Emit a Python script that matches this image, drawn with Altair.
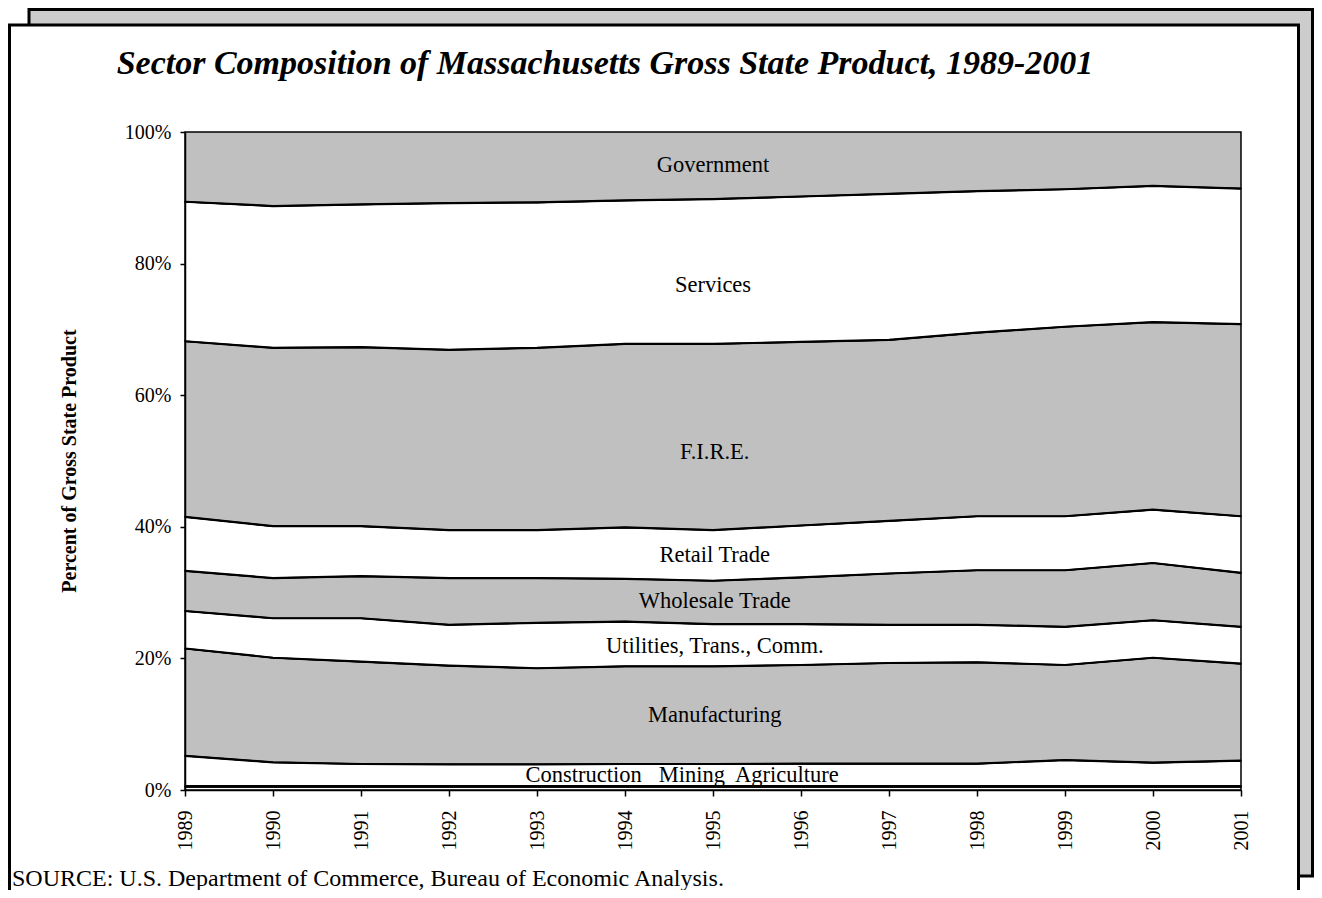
import altair as alt
import pandas as pd

# ---------------- data ----------------
years = [1989, 1990, 1991, 1992, 1993, 1994, 1995, 1996, 1997, 1998, 1999, 2000, 2001]

# sectors from bottom to top of the stack
sectors = ["Agriculture", "Mining", "Construction", "Manufacturing",
           "Utilities, Trans., Comm.", "Wholesale Trade", "Retail Trade",
           "F.I.R.E.", "Services", "Government"]

# cumulative upper edge (percent of GSP) of each sector band
agriculture_top = [0.5, 0.5, 0.5, 0.5, 0.5, 0.5, 0.5, 0.5, 0.5, 0.5, 0.5, 0.5, 0.5]
mining_top = [0.6, 0.6, 0.6, 0.6, 0.6, 0.6, 0.6, 0.6, 0.6, 0.6, 0.6, 0.6, 0.6]
construction_top = [5.2, 4.2, 3.95, 3.9, 3.9, 3.95, 3.95, 4.0, 4.0, 4.0, 4.55, 4.15, 4.45]
manufacturing_top = [21.5, 20.1, 19.5, 18.9, 18.5, 18.8, 18.8, 19.0, 19.3, 19.4, 19.0, 20.1, 19.2]
utilities_top = [27.2, 26.1, 26.1, 25.1, 25.4, 25.6, 25.2, 25.2, 25.1, 25.1, 24.8, 25.8, 24.8]
wholesale_top = [33.3, 32.2, 32.5, 32.2, 32.2, 32.1, 31.8, 32.3, 32.9, 33.4, 33.4, 34.5, 33.0]
retail_top = [41.5, 40.1, 40.1, 39.5, 39.5, 39.9, 39.5, 40.2, 40.9, 41.6, 41.6, 42.6, 41.6]
fire_top = [68.2, 67.2, 67.3, 66.9, 67.2, 67.8, 67.8, 68.1, 68.4, 69.5, 70.4, 71.1, 70.8]
services_top = [89.4, 88.75, 89.0, 89.2, 89.3, 89.6, 89.8, 90.2, 90.6, 91.0, 91.3, 91.8, 91.4]
government_top = [100, 100, 100, 100, 100, 100, 100, 100, 100, 100, 100, 100, 100]

tops = [agriculture_top, mining_top, construction_top, manufacturing_top,
        utilities_top, wholesale_top, retail_top, fire_top, services_top,
        government_top]

fills = ["#FFFFFF", "#C0C0C0", "#FFFFFF", "#C0C0C0", "#FFFFFF",
         "#C0C0C0", "#FFFFFF", "#C0C0C0", "#FFFFFF", "#C0C0C0"]

# in-chart labels
label_text = ["Government", "Services", "F.I.R.E.", "Retail Trade", "Wholesale Trade",
              "Utilities, Trans., Comm.", "Manufacturing", "Construction", "Mining",
              "Agriculture"]
label_year = [1995, 1995, 1995.02, 1995.02, 1995.02, 1995.02, 1995.02, 1993.53, 1994.76, 1995.84]
label_pct = [95.0, 76.7, 51.4, 35.7, 28.7, 21.9, 11.4, 2.3, 2.3, 2.3]

y_ticks = [0, 20, 40, 60, 80, 100]

title_text = "Sector Composition of Massachusetts Gross State Product, 1989-2001"
y_title_text = "Percent of Gross State Product"
source_text = "SOURCE: U.S. Department of Commerce, Bureau of Economic Analysis."

# ---------------- tables ----------------
rows = []
for i, (name, top) in enumerate(zip(sectors, tops)):
    lower = tops[i - 1] if i > 0 else [0] * len(years)
    for yr, lo, up in zip(years, lower, top):
        rows.append({"year": yr, "sector": name, "lower": lo, "upper": up})
df = pd.DataFrame(rows)
labels_df = pd.DataFrame({"label": label_text, "year": label_year, "pct": label_pct})
one = pd.DataFrame({"k": [0]})

FONT = "Liberation Serif"
W, H = 1056, 658

x_enc = alt.X("year:Q",
              scale=alt.Scale(domain=[1989, 2001], nice=False, zero=False),
              axis=alt.Axis(values=years, format="d", labelAngle=270, title=None,
                            labelFont=FONT, labelFontSize=20, labelColor="black",
                            tickColor="black", tickSize=6, tickWidth=1.5,
                            labelPadding=14, domainColor="black", domainWidth=1.5,
                            grid=False, zindex=1))
y_enc = alt.Y("upper:Q", stack=None,
              scale=alt.Scale(domain=[0, 100], nice=False, zero=True),
              axis=alt.Axis(values=y_ticks, labelExpr="datum.value + '%'",
                            title=None,
                            labelFont=FONT, labelFontSize=20, labelColor="black",
                            tickColor="black", tickSize=5, tickWidth=1.5,
                            labelPadding=9, domainColor="black", domainWidth=1.5,
                            grid=False, zindex=1))

# decorative frame (shadowed box)
back_box = alt.Chart(one).mark_rect(fill="#CCCCCC", stroke="black", strokeWidth=3).encode(
    x=alt.value(-156), x2=alt.value(1127.5), y=alt.value(-122.5), y2=alt.value(744))
front_box = alt.Chart(one).mark_rect(fill="white", stroke="black", strokeWidth=3).encode(
    x=alt.value(-175.5), x2=alt.value(1113.5), y=alt.value(-107), y2=alt.value(820))

areas = alt.Chart(df).mark_area(stroke="black", strokeWidth=1.5).encode(
    x=x_enc, y=y_enc, y2="lower:Q",
    fill=alt.Fill("sector:N", scale=alt.Scale(domain=sectors, range=fills), legend=None))

lines = alt.Chart(df).transform_filter(alt.datum.sector != "Government").mark_line(
    color="black", strokeWidth=2.2).encode(
    x=alt.X("year:Q"), y=alt.Y("upper:Q"), detail="sector:N")

labels = alt.Chart(labels_df).mark_text(font=FONT, fontSize=22.5, color="black",
                                        align="center", baseline="middle").encode(
    x=alt.X("year:Q"), y=alt.Y("pct:Q"), text="label:N")

title = alt.Chart(one).mark_text(font=FONT, fontSize=34, fontStyle="italic",
                                 fontWeight="bold", color="black", align="center",
                                 baseline="alphabetic", text=title_text).encode(
    x=alt.value(420), y=alt.value(-58))

y_title = alt.Chart(one).mark_text(font=FONT, fontSize=20, fontWeight="bold",
                                   color="black", angle=270,
                                   align="center", baseline="middle",
                                   text=y_title_text).encode(
    x=alt.value(-115), y=alt.value(H / 2))

source = alt.Chart(one).mark_text(font=FONT, fontSize=24, color="black",
                                  align="left", baseline="alphabetic",
                                  text=source_text).encode(
    x=alt.value(-173), y=alt.value(754))

chart = alt.layer(back_box, front_box, areas, lines, labels, title, y_title, source).properties(
    width=W, height=H,
    padding={"left": 177, "top": 124, "right": 73, "bottom": 100},
    autosize=alt.AutoSizeParams(type="none"),
).configure_view(stroke=None)

chart.save("out.html", embed_options={"renderer": "svg", "actions": False})
